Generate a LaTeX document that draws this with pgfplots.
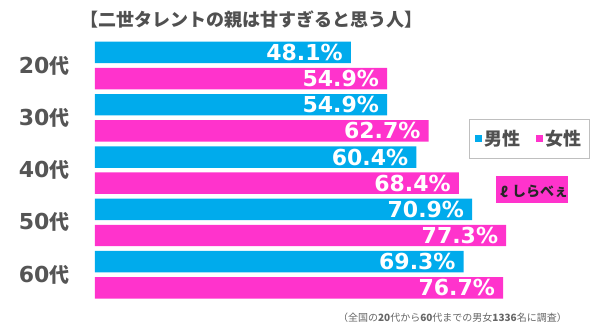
\documentclass[border=0pt]{standalone}
\usepackage{pgfplots}
\pgfplotsset{compat=1.18}
\usepackage{fontspec}
\setmainfont{DejaVu Sans}
\newfontfamily\cjk{Noto Sans CJK JP}
\definecolor{mblue}{RGB}{0,171,236}
\definecolor{fpink}{RGB}{255,51,204}
\definecolor{lbl}{RGB}{85,85,85}
\definecolor{ttl}{RGB}{80,80,80}
\newcommand\dai{{\cjk\bfseries\fontsize{20}{20}\selectfont 代}}
\begin{document}
\begin{tikzpicture}
\path[use as bounding box] (0,0) rectangle (600pt,330pt);
\begin{axis}[
  at={(95pt,29.15pt)}, anchor=south west,
  scale only axis, width=478.8pt, height=261.5pt,
  xbar, bar width=0.41,
  xmin=0, xmax=90, ymin=-0.5, ymax=4.5, y dir=reverse,
  axis line style={draw=none}, tick style={draw=none},
  xtick=\empty, ytick={0,1,2,3,4},
  yticklabels={{20\dai},{30\dai},{40\dai},{50\dai},{60\dai}},
  yticklabel style={font=\fontsize{22}{22}\selectfont\bfseries, text=lbl, inner sep=0pt, anchor=east, xshift=-21pt},
  clip=false,
  point meta=x,
  nodes near coords={\pgfmathprintnumber[fixed,fixed zerofill,precision=1,assume math mode=true]{\pgfplotspointmeta}\%},
  nodes near coords style={font=\fontsize{22}{22}\selectfont\bfseries, text=white, anchor=east, inner sep=0pt, xshift=-8pt},
  legend columns=2,
  legend image code/.code={\fill[#1] (1pt,-3.5pt) rectangle (8pt,3.5pt);},
  legend style={at={(axis cs:70.3,1.023)}, anchor=north west, draw=black!25, line width=1pt,
    font=\cjk\bfseries\fontsize{18}{18}\selectfont, text=ttl, inner xsep=6pt, inner ysep=9pt,
    /tikz/every even column/.append style={column sep=14pt}},
]
\addplot[fill=mblue, draw=none, bar shift=-0.25] coordinates {(48.1,0) (54.9,1) (60.4,2) (70.9,3) (69.3,4)};
\addlegendentry{男性}
\addplot[fill=fpink, draw=none, bar shift=0.25] coordinates {(54.9,0) (62.7,1) (68.4,2) (77.3,3) (76.7,4)};
\addlegendentry{女性}
\end{axis}
\node[anchor=west, inner sep=0pt, text=ttl, font=\cjk\bfseries\fontsize{18}{18}\selectfont] at (80pt,310.5pt) {【二世タレントの親は甘すぎると思う人】};
\node[fill=fpink, minimum width=72pt, minimum height=27pt, inner sep=0pt] at (532pt,140.5pt) {};
\node[anchor=west, inner sep=0pt, font=\cjk\bfseries\fontsize{14}{14}\selectfont, text=black!85] at (512pt,138.5pt) {しらべぇ};
\node[inner sep=0pt, font=\cjk\bfseries\fontsize{14}{14}\selectfont, text=black!85] at (504pt,138.5pt) {ℓ};
\node[anchor=east, inner sep=0pt, text=black!60, font=\cjk\fontsize{10}{10}\selectfont] at (567pt,12pt) {（全国の\textbf{20}代から\textbf{60}代までの男女\textbf{1336}名に調査）};
\end{tikzpicture}
\end{document}
